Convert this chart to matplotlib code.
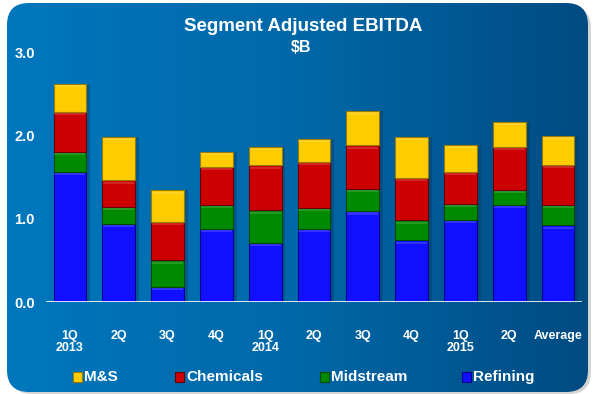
import matplotlib
matplotlib.use("Agg")
import matplotlib.pyplot as plt
import numpy as np
from matplotlib.patches import FancyBboxPatch, Rectangle
from matplotlib.colors import LinearSegmentedColormap

categories = ["1Q\n2013", "2Q", "3Q", "4Q", "1Q\n2014", "2Q", "3Q", "4Q", "1Q\n2015", "2Q", "Average"]
refining = [1.56, 0.94, 0.18, 0.88, 0.71, 0.88, 1.09, 0.74, 0.99, 1.17, 0.92]
midstream = [0.24, 0.20, 0.32, 0.29, 0.39, 0.25, 0.27, 0.24, 0.19, 0.18, 0.25]
chemicals = [0.48, 0.32, 0.46, 0.45, 0.54, 0.55, 0.52, 0.51, 0.38, 0.51, 0.48]
ms = [0.34, 0.52, 0.38, 0.18, 0.22, 0.28, 0.41, 0.49, 0.33, 0.30, 0.34]
series_names = ["Refining", "Midstream", "Chemicals", "M&S"]
yticks = [0.0, 1.0, 2.0, 3.0]

W, H = 595, 394
fig = plt.figure(figsize=(W / 100, H / 100), dpi=100)
fig.patch.set_facecolor("white")

# background panel
bg = fig.add_axes([0, 0, 1, 1])
bg.set_xlim(0, W)
bg.set_ylim(H, 0)
bg.axis("off")
shadow = FancyBboxPatch((10, 6), 581, 388, boxstyle="round,pad=0,rounding_size=22",
                        fc="#b8b8b8", ec="none", alpha=0.6)
bg.add_patch(shadow)
panel = FancyBboxPatch((7, 3), 581, 389, boxstyle="round,pad=0,rounding_size=22",
                       fc="none", ec="none")
bg.add_patch(panel)
cmap = LinearSegmentedColormap.from_list("g", ["#0077bd", "#0068a8", "#004b82"])
grad = np.linspace(0, 1, 256).reshape(1, -1)
im = bg.imshow(grad, cmap=cmap, extent=[7, 588, 398, 3], aspect="auto", zorder=1)
im.set_clip_path(panel)
bg.set_xlim(0, W)
bg.set_ylim(H, 0)

bg.text(303, 26, "Segment Adjusted EBITDA", color="white", fontsize=13.5,
        fontweight="bold", ha="center", va="center", family="Liberation Sans", zorder=5)
bg.text(301, 47, "$B", color="white", fontsize=11.5, fontweight="bold",
        ha="center", va="center", family="Liberation Sans", zorder=5)

# chart axes: x from 46 to 582 px, y baseline 302, 3.0 at 52
x0, x1 = 46, 582
ytop_px, ybase_px = 52, 302
ax = fig.add_axes([x0 / W, 1 - ybase_px / H, (x1 - x0) / W, (ybase_px - ytop_px) / H])
ax.set_facecolor("none")
n = len(categories)
x = np.arange(n)
ax.set_xlim(-0.49, n - 0.51)
ax.set_ylim(0, 3.0)

colors = {"Refining": ("#1010ff", "#00008a"), "Midstream": ("#008a00", "#004a00"),
          "Chemicals": ("#cc0000", "#6a0000"), "M&S": ("#ffcc00", "#9a7a00")}
data = {"Refining": refining, "Midstream": midstream, "Chemicals": chemicals, "M&S": ms}
width = 0.67
bottom = np.zeros(n)
totals = np.array(refining) + np.array(midstream) + np.array(chemicals) + np.array(ms)
ax.bar(x + 0.08, totals, width=width, bottom=0, color="#003355", alpha=0.35, zorder=1,
       align="center", linewidth=0)
for name in series_names:
    vals = np.array(data[name])
    fc, ec = colors[name]
    ax.bar(x, vals, width=width, bottom=bottom, color=fc, edgecolor=ec, linewidth=0.8, zorder=3)
    ax.bar(x, np.minimum(vals, 0.025), width=width * 0.95, bottom=bottom + vals - 0.04,
           color="white", alpha=0.15, linewidth=0, zorder=4)
    bottom = bottom + vals

ax.axhline(0, color="white", linewidth=1.2, zorder=5)
for s in ax.spines.values():
    s.set_visible(False)
ax.set_yticks(yticks)
ax.set_yticklabels([f"{v:.1f}" for v in yticks], color="white", fontsize=10.5,
                   fontweight="bold", family="Liberation Sans")
ax.tick_params(axis="y", length=0, pad=8)
ax.set_xticks(x)
ax.set_xticklabels(categories, color="white", fontsize=9, fontweight="bold",
                   family="Liberation Sans", linespacing=1.05)
ax.tick_params(axis="x", length=0, pad=20)

# legend
leg_items = [("M&S", 73), ("Chemicals", 175), ("Midstream", 320), ("Refining", 462)]
for name, lx in leg_items:
    fc, ec = colors[name]
    bg.add_patch(Rectangle((lx, 372), 9, 10, fc=fc, ec=ec, lw=0.8, zorder=5))
    bg.text(lx + 11, 377, name, color="white", fontsize=11, fontweight="bold",
            ha="left", va="center", family="Liberation Sans", zorder=5)

fig.savefig("out.png", dpi=100, facecolor="white")
